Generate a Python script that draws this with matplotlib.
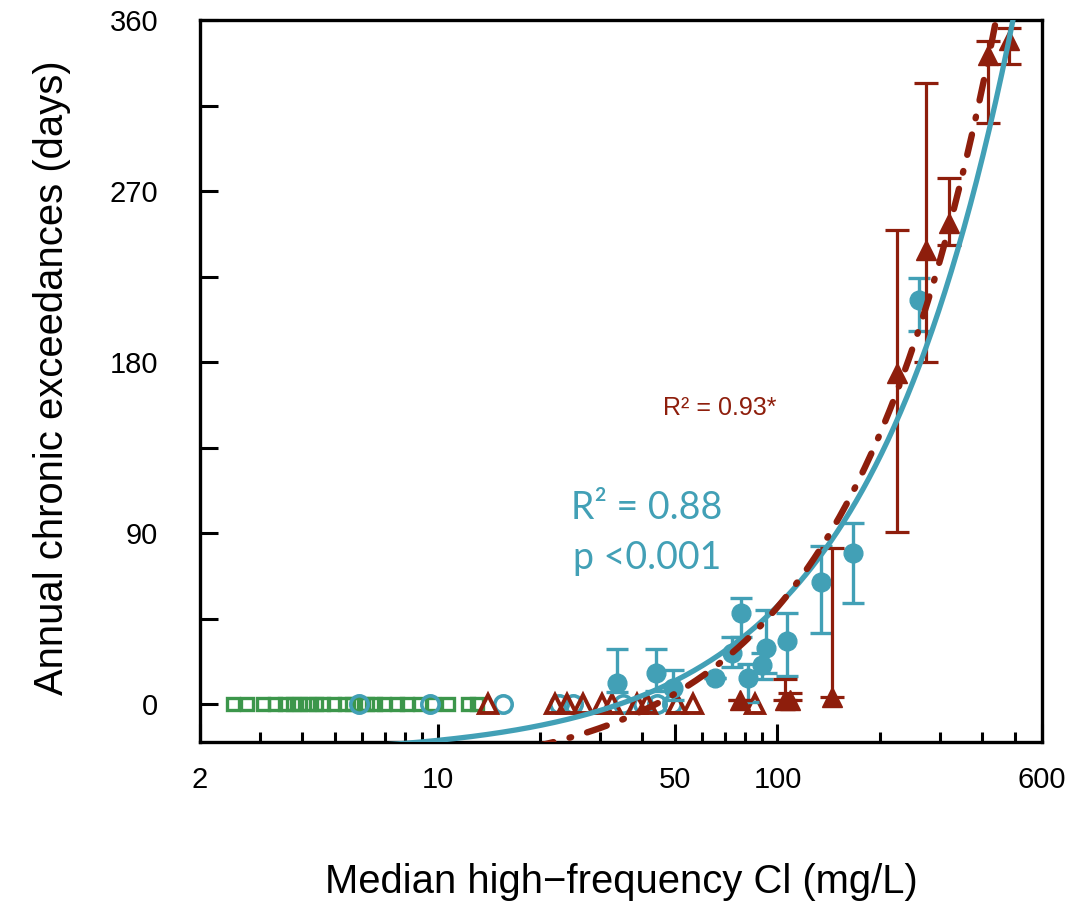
import numpy as np
import matplotlib.pyplot as plt
from matplotlib.ticker import FixedLocator, NullFormatter

plt.rcParams['lines.scale_dashes'] = False
plt.rcParams['font.family'] = ['Liberation Sans', 'DejaVu Sans']

teal = '#42a0b6'
brick = '#8e1e0c'
green = '#3c964b'

# open green squares (all at zero exceedances)
sq_x = [2.50, 2.75, 3.06, 3.32, 3.56, 3.75, 3.94, 4.16, 4.39, 4.60, 4.96, 5.34,
        5.60, 5.91, 6.20, 6.54, 6.95, 7.59, 8.12, 8.87, 9.69, 10.7, 12.3, 13.1]
sq_y = [0] * len(sq_x)

# open teal circles (zero exceedances)
oc_x = [5.87, 9.50, 15.6, 22.7, 25.0, 35.1, 40.2, 44.2, 48.9]
oc_y = [0] * len(oc_x)

# open red triangles (zero exceedances)
ot_x = [14.1, 22.1, 24.0, 26.8, 30.4, 32.6, 38.6, 41.3, 50.6, 56.4, 85.8]
ot_y = [0] * len(ot_x)

# filled teal circles with ranges
bc_x  = [33.7, 43.9, 49.2, 65.4, 73.4, 78.0, 81.8, 90.0, 92.5, 106.4, 134.0, 166.7, 260.6]
bc_y  = [11.1, 16.3, 8.4, 13.7, 26.8, 47.9, 13.7, 20.5, 29.5, 33.2, 64.2, 79.5, 212.6]
bc_hi = [28.9, 28.9, 18.0, 13.7, 35.3, 55.8, 21.0, 27.0, 49.5, 47.9, 83.2, 95.3, 224.2]
bc_lo = [6.3, 7.0, 2.0, 13.7, 19.5, 35.3, 1.0, 13.0, 16.3, 14.7, 37.4, 53.2, 196.3]

# filled red triangles with ranges
rt_x  = [77.5, 105.2, 108.8, 144.6, 224.4, 273.0, 319.0, 415.6, 478.8]
rt_y  = [2.0, 2.0, 2.0, 3.7, 174.0, 239.0, 253.0, 341.6, 349.5]
rt_hi = [2.0, 13.0, 6.0, 82.0, 249.5, 327.0, 277.0, 349.0, 356.0]
rt_lo = [2.0, 2.0, 2.0, 3.7, 90.5, 180.0, 241.6, 306.0, 337.0]

# fitted lines (intercept, slope)
teal_fit = (-27.0, 0.785)
red_fit = (-40.0, 0.91)

fig = plt.figure(figsize=(10.92, 9.02), dpi=100)
ax = fig.add_axes([200/1092, 1-742/902, 842/1092, 722/902])

ax.plot(sq_x, sq_y, 's', ms=8.6, mfc='none', mec=green, mew=2.4, zorder=2)
ax.plot(oc_x, oc_y, 'o', ms=12.5, mfc='none', mec=teal, mew=2.6, zorder=2)
ax.plot(ot_x, ot_y, '^', ms=13.5, mfc='none', mec=brick, mew=2.8, zorder=2)

bc_err = [np.array(bc_y) - np.array(bc_lo), np.array(bc_hi) - np.array(bc_y)]
ax.errorbar(bc_x, bc_y, yerr=bc_err, fmt='o', ms=13.5, color=teal,
            elinewidth=2.4, capsize=8, capthick=2.4, zorder=3)

rt_err = [np.array(rt_y) - np.array(rt_lo), np.array(rt_hi) - np.array(rt_y)]
ax.errorbar(rt_x, rt_y, yerr=rt_err, fmt='^', ms=15, color=brick,
            elinewidth=2.3, capsize=8.5, capthick=2.3, zorder=4)

xx = np.geomspace(2, 600, 400)
ax.plot(xx, teal_fit[0] + teal_fit[1]*xx, color=teal, lw=3.8, zorder=5)
ax.plot(xx, red_fit[0] + red_fit[1]*xx, color=brick, lw=4.6,
        dashes=(15, 12, 1.2, 12), dash_capstyle='round', zorder=6)

ax.set_xscale('log')
ax.set_xlim(2, 600)
ax.set_ylim(-20, 360)

ax.xaxis.set_major_locator(FixedLocator([2, 10, 50, 100, 600]))
ax.set_xticklabels(['2', '10', '50', '100', '600'])
ax.xaxis.set_minor_locator(FixedLocator([3, 4, 5, 6, 7, 8, 9, 20, 30, 40, 60, 70, 80, 90,
                                         200, 300, 400, 500]))
ax.xaxis.set_minor_formatter(NullFormatter())
ax.set_yticks([0, 90, 180, 270, 360])
ax.yaxis.set_minor_locator(FixedLocator([45, 135, 225, 315]))

ax.tick_params(axis='x', which='major', direction='in', length=13, width=2.2,
               labelsize=21, pad=17)
ax.tick_params(axis='x', which='minor', direction='in', length=7, width=2.2)
ax.tick_params(axis='y', which='both', direction='in', length=13, width=2.2,
               labelsize=21, pad=30)

for s in ax.spines.values():
    s.set_linewidth(2.4)

ax.text(67.8, 155.8, 'R² = 0.93*', color=brick, fontsize=18, ha='center', va='center')
ax.text(41.3, 103, 'R² = 0.88', color=teal, fontsize=27, ha='center', va='center',
        family=['Lato', 'DejaVu Sans'])
ax.text(41.3, 77, 'p <0.001', color=teal, fontsize=27, ha='center', va='center',
        family=['Lato', 'DejaVu Sans'])

fig.text(621/1092, 1-882/902, 'Median high\u2212frequency Cl (mg/L)', fontsize=28.8,
         ha='center', va='center')
fig.text(52/1092, 1-378/902, 'Annual chronic exceedances (days)', fontsize=28.8,
         ha='center', va='center', rotation=90)

fig.savefig('out.png', dpi=100)
